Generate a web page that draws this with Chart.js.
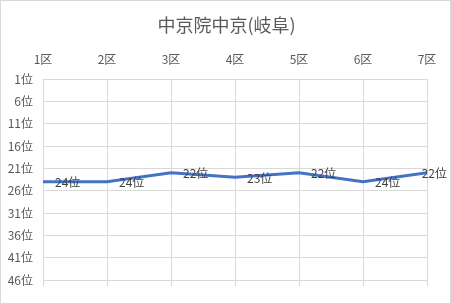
<!DOCTYPE html>
<html>
<head>
<meta charset="utf-8">
<script src="https://cdn.jsdelivr.net/npm/chart.js@4"></script>
<style>
  html, body { margin: 0; padding: 0; background: #fff; }
  #wrap { width: 451px; height: 304px; }
</style>
</head>
<body>
<div id="wrap"><canvas id="rankChart"></canvas></div>
<script>
const sections = ["1区", "2区", "3区", "4区", "5区", "6区", "7区"];
const ranks = [24, 24, 22, 23, 22, 24, 22];
const rankTicks = [1, 6, 11, 16, 21, 26, 31, 36, 41, 46];
const titleText = "中京院中京(岐阜)";

const FONT = "'Noto Sans CJK JP', 'Noto Sans', sans-serif";
const GRID = "#d9d9d9";

// title centred on the whole chart, not the plot
const chartTitle = {
    id: "chartTitle",
    afterDraw(chart) {
        const ctx = chart.ctx;
        ctx.save();
        ctx.font = "18px " + FONT;
        ctx.fillStyle = "#595959";
        ctx.textAlign = "center";
        ctx.textBaseline = "middle";
        ctx.fillText(titleText, chart.width / 2 + 1, 25);
        ctx.restore();
    }
};

// labels to the right of each point, kept inside the canvas like Excel does
const pointLabels = {
    id: "pointLabels",
    afterDatasetsDraw(chart) {
        const ctx = chart.ctx;
        const meta = chart.getDatasetMeta(0);
        ctx.save();
        ctx.font = "12px " + FONT;
        ctx.fillStyle = "#404040";
        ctx.textBaseline = "middle";
        ctx.textAlign = "left";
        meta.data.forEach((pt, i) => {
            const txt = ranks[i] + "位";
            const w = ctx.measureText(txt).width;
            let x = pt.x + 12;
            if (x + w > chart.width - 4) x = chart.width - 4 - w;
            ctx.fillText(txt, x, pt.y + 1);
        });
        ctx.restore();
    }
};

// tick marks under the bottom gridline + outer frame
const frame = {
    id: "frame",
    afterDraw(chart) {
        const ctx = chart.ctx;
        const xs = chart.scales.x;
        const bottom = chart.chartArea.bottom;
        ctx.save();
        ctx.strokeStyle = GRID;
        ctx.lineWidth = 1;
        xs.ticks.forEach((t, i) => {
            const x = Math.round(xs.getPixelForTick(i)) + 0.5;
            ctx.beginPath();
            ctx.moveTo(x, bottom);
            ctx.lineTo(x, bottom + 6);
            ctx.stroke();
        });
        ctx.strokeRect(0.5, 0.5, chart.width - 1, chart.height - 1);
        ctx.restore();
    }
};

new Chart(document.getElementById("rankChart").getContext("2d"), {
    type: "line",
    data: {
        labels: sections,
        datasets: [{
            label: "順位",
            data: ranks,
            borderColor: "#4472C4",
            borderWidth: 3,
            pointRadius: 0,
            tension: 0,
            fill: false
        }]
    },
    options: {
        responsive: true,
        maintainAspectRatio: false,
        animation: false,
        layout: { padding: { left: 0, right: 24, top: 49, bottom: 24 } },
        plugins: {
            legend: { display: false },
            tooltip: { enabled: false },
            title: { display: false }
        },
        scales: {
            x: {
                position: "top",
                offset: false,
                border: { display: false },
                grid: { color: GRID, drawTicks: false },
                ticks: {
                    color: "#595959",
                    font: { family: FONT, size: 12 },
                    padding: 12,
                    maxRotation: 0
                },
                afterFit(scale) { scale.height = 30; }
            },
            y: {
                reverse: true,
                min: 1,
                max: 46,
                afterBuildTicks(scale) {
                    scale.ticks = rankTicks.map(v => ({ value: v }));
                },
                border: { display: false },
                grid: { color: GRID, drawTicks: false },
                ticks: {
                    color: "#595959",
                    font: { family: FONT, size: 12 },
                    padding: 10,
                    callback: v => v + "位"
                },
                afterFit(scale) { scale.width = 43; }
            }
        }
    },
    plugins: [pointLabels, frame, chartTitle]
});
</script>
</body>
</html>
